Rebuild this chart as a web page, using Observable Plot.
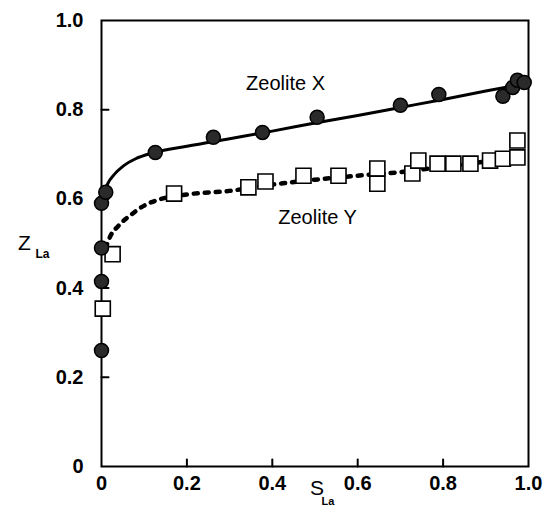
<!DOCTYPE html>
<html>
<head>
<meta charset="utf-8">
<script src="https://cdn.jsdelivr.net/npm/d3@7"></script>
<script src="https://cdn.jsdelivr.net/npm/@observablehq/plot@0.6"></script>
<style>
  html, body { margin: 0; padding: 0; background: white; }
  #chart { width: 543px; height: 509px; }
</style>
</head>
<body>
<div id="chart"></div>
<script>
// Tick values and labels
const xTicks = [0, 0.2, 0.4, 0.6, 0.8, 1.0];
const xTickLabels = ["0", "0.2", "0.4", "0.6", "0.8", "1.0"];
const yTicks = [0, 0.2, 0.4, 0.6, 0.8, 1.0];
const yTickLabels = ["0", "0.2", "0.4", "0.6", "0.8", "1.0"];
const innerTicks = [0.2, 0.4, 0.6, 0.8];

// Zeolite X measured points (circles)
const zeoXs = [0, 0, 0, 0, 0.01, 0.126, 0.262, 0.377, 0.505, 0.70, 0.79, 0.94, 0.963, 0.974, 0.99];
const zeoXz = [0.26, 0.415, 0.49, 0.59, 0.615, 0.704, 0.738, 0.749, 0.783, 0.81, 0.834, 0.83, 0.85, 0.866, 0.861];

// Zeolite X fitted curve (solid)
const fitXs = [0, 0.005, 0.015, 0.03, 0.05, 0.08, 0.12, 0.2, 0.3, 0.4, 0.5, 0.6, 0.7, 0.8, 0.9, 1.0];
const fitXz = [0.58, 0.61, 0.635, 0.655, 0.673, 0.69, 0.703, 0.718, 0.735, 0.752, 0.77, 0.787, 0.805, 0.823, 0.842, 0.86];

// Zeolite Y measured points (squares)
const zeoYs = [0.003, 0.026, 0.17, 0.344, 0.384, 0.473, 0.555, 0.646, 0.646, 0.728, 0.742, 0.787, 0.824, 0.864, 0.91, 0.94, 0.974, 0.974];
const zeoYz = [0.354, 0.476, 0.612, 0.626, 0.639, 0.652, 0.652, 0.668, 0.634, 0.657, 0.686, 0.679, 0.679, 0.679, 0.686, 0.69, 0.693, 0.731];

// Zeolite Y fitted curve (dotted)
const fitYs = [0.01, 0.02, 0.04, 0.07, 0.1, 0.14, 0.2, 0.3, 0.4, 0.5, 0.6, 0.7, 0.8, 0.9, 0.97];
const fitYz = [0.49, 0.515, 0.54, 0.565, 0.585, 0.6, 0.61, 0.618, 0.632, 0.643, 0.652, 0.66, 0.672, 0.684, 0.695];

// Curve labels
const curveNames = ["Zeolite X", "Zeolite Y"];
const curveLabelX = [0.431, 0.506];
const curveLabelY = [0.859, 0.558];

const toRows = (xs, ys) => xs.map((x, i) => ({x, y: ys[i]}));
const ptsX = toRows(zeoXs, zeoXz);
const lineX = toRows(fitXs, fitXz);
const ptsY = toRows(zeoYs, zeoYz);
const lineY = toRows(fitYs, fitYz);
const labels = curveNames.map((t, i) => ({t, x: curveLabelX[i], y: curveLabelY[i]}));

const W = 543, H = 509, ML = 101, MR = 15, MT = 20, MB = 43;
const TICK = 7;
const font = "'Liberation Sans', Arial, Helvetica, sans-serif";
// plain straight tick shape for the vector mark
const tickShape = {draw(context, l) { context.moveTo(0, 0); context.lineTo(0, -l); }};

const chart = Plot.plot({
  width: W,
  height: H,
  marginLeft: ML,
  marginRight: MR,
  marginTop: MT,
  marginBottom: MB,
  style: {fontFamily: font, fontSize: "20px", color: "black", background: "white", overflow: "visible"},
  x: {domain: [0, 1]},
  y: {domain: [0, 1]},
  marks: [
    Plot.frame({stroke: "black", strokeWidth: 2}),
    Plot.axisX(xTicks, {tickSize: 0, tickPadding: 9, tickFormat: (d, i) => xTickLabels[i], fontWeight: "bold", fontSize: 20, label: null}),
    Plot.axisY(yTicks, {tickSize: 0, tickPadding: 18, tickFormat: (d, i) => yTickLabels[i], fontWeight: "bold", fontSize: 20, label: null}),
    // inward ticks: short straight vectors starting on the axis lines
    Plot.vector(innerTicks, {x: d => d, y: () => 0, length: TICK, rotate: 0, anchor: "start", shape: tickShape, stroke: "black", strokeWidth: 2}),
    Plot.vector(innerTicks, {x: () => 0, y: d => d, length: TICK, rotate: 90, anchor: "start", shape: tickShape, stroke: "black", strokeWidth: 2}),
    Plot.line(lineX, {x: "x", y: "y", stroke: "black", strokeWidth: 3, curve: "monotone-x"}),
    Plot.line(lineY, {x: "x", y: "y", stroke: "black", strokeWidth: 4.5, strokeDasharray: "4,7", curve: "monotone-x"}),
    Plot.dot(ptsY, {x: "x", y: "y", symbol: "square", r: 8.5, fill: "white", stroke: "black", strokeWidth: 1.6}),
    Plot.dot(ptsX, {x: "x", y: "y", r: 7, fill: "#2a2a2a", stroke: "black", strokeWidth: 1.5}),
    Plot.text(labels, {x: "x", y: "y", text: "t", fontSize: 20, textAnchor: "middle", fill: "black"}),
    Plot.text(["Z"], {frameAnchor: "left", dx: -77, fontSize: 21, textAnchor: "middle", fill: "black"}),
    Plot.text(["La"], {frameAnchor: "left", dx: -59, dy: 11, fontSize: 12, fontWeight: "bold", textAnchor: "middle", fill: "black"}),
    Plot.text(["S"], {frameAnchor: "bottom", dx: 2, dy: 28, fontSize: 21, textAnchor: "middle", fill: "black"}),
    Plot.text(["La"], {frameAnchor: "bottom", dx: 13, dy: 38, fontSize: 11, fontWeight: "bold", textAnchor: "middle", fill: "black"})
  ]
});
document.getElementById("chart").appendChild(chart);
</script>
</body>
</html>
